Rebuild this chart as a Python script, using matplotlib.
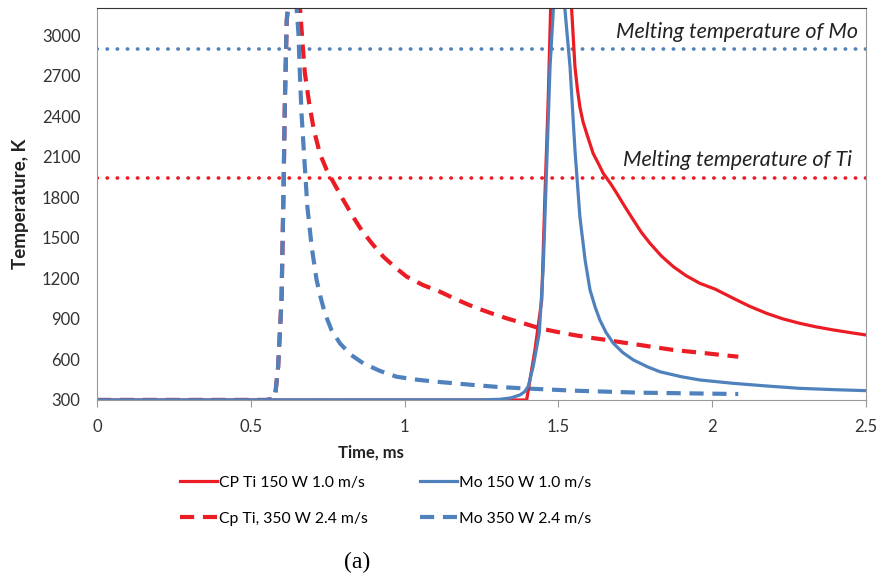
import numpy as np
import matplotlib.pyplot as plt

plt.rcParams['font.family'] = ['Lato', 'DejaVu Sans']

red = '#EC1C24'
blue = '#4F81BD'

# CP Ti 150 W 1.0 m/s
t_ti150 = [0, 1.397, 1.410, 1.424, 1.446, 1.456, 1.467, 1.475, 1.51, 1.543, 1.554, 1.562, 1.570,
           1.580, 1.592, 1.613, 1.630, 1.646, 1.670, 1.690, 1.715, 1.744, 1.770, 1.798, 1.835,
           1.874, 1.915, 1.960, 2.010, 2.069, 2.12, 2.177, 2.23, 2.285, 2.34, 2.394, 2.45, 2.5]
T_ti150 = [300, 300, 480, 670, 1040, 1779, 2519, 3200, 3800, 3200, 2765, 2600, 2469,
           2360, 2272, 2125, 2050, 1977, 1900, 1829, 1735, 1631, 1540, 1459, 1365,
           1286, 1220, 1163, 1120, 1052, 995, 941, 900, 867, 840, 818, 798, 781]

# Mo 150 W 1.0 m/s
t_mo150 = [0, 1.25, 1.310, 1.345, 1.375, 1.390, 1.402, 1.418, 1.438, 1.451, 1.462, 1.473, 1.484,
           1.50, 1.521, 1.538, 1.554, 1.570, 1.587, 1.603, 1.620, 1.635, 1.655, 1.679, 1.71,
           1.744, 1.79, 1.830, 1.90, 1.960, 2.069, 2.18, 2.285, 2.4, 2.5]
T_mo150 = [300, 301, 305, 315, 337, 360, 400, 546, 795, 1286, 2026, 2765, 3200,
           3600, 3200, 2765, 2149, 1656, 1335, 1114, 985, 892, 800, 719, 650,
           596, 545, 509, 472, 448, 423, 403, 386, 376, 369]

# Cp Ti, 350 W 2.4 m/s
t_ti350 = [0, 0.55, 0.570, 0.579, 0.589, 0.600, 0.606, 0.611, 0.617, 0.635, 0.660, 0.668, 0.676,
           0.690, 0.705, 0.725, 0.747, 0.775, 0.801, 0.830, 0.860, 0.895, 0.931, 0.97, 1.007,
           1.06, 1.115, 1.17, 1.223, 1.28, 1.332, 1.39, 1.440, 1.495, 1.549, 1.60, 1.657,
           1.71, 1.765, 1.82, 1.874, 1.93, 1.982, 2.03, 2.085]
T_ti350 = [300, 300, 308, 325, 546, 1040, 1779, 2519, 3110, 3500, 3200, 2950, 2716,
           2494, 2300, 2120, 2001, 1885, 1779, 1665, 1557, 1455, 1360, 1280, 1212,
           1150, 1101, 1042, 990, 943, 904, 865, 830, 804, 781, 762, 744,
           725, 707, 688, 670, 657, 645, 633, 620]

# Mo 350 W 2.4 m/s
t_mo350 = [0, 0.55, 0.570, 0.579, 0.589, 0.600, 0.606, 0.611, 0.617, 0.632, 0.649, 0.655, 0.660,
           0.665, 0.673, 0.684, 0.698, 0.714, 0.727, 0.741, 0.762, 0.790, 0.825, 0.866, 0.92,
           0.974, 1.04, 1.104, 1.223, 1.30, 1.386, 1.549, 1.765, 2.085]
T_mo350 = [300, 300, 308, 325, 546, 1040, 1779, 2519, 3110, 3500, 3200, 3012, 2691,
           2420, 2125, 1730, 1434, 1188, 1060, 941, 820, 719, 635, 571, 515,
           472, 450, 435, 411, 397, 386, 369, 354, 344]

melt_mo = 2896
melt_ti = 1941

fig = plt.figure(figsize=(8.8, 5.79), dpi=100)
ax = fig.add_axes([0.1102, 0.3092, 0.8738, 0.6770])

ax.axhline(melt_mo, color=blue, lw=2.6, ls=(0, (0.1, 2.7)), dash_capstyle='round')
ax.axhline(melt_ti, color=red, lw=2.6, ls=(0, (0.1, 2.7)), dash_capstyle='round')

l3, = ax.plot(t_ti350, T_ti350, color=red, lw=3.0, ls=(0, (3.4, 2.1)))
l4, = ax.plot(t_mo350, T_mo350, color=blue, lw=3.0, ls=(0, (3.4, 2.1)))
l1, = ax.plot(t_ti150, T_ti150, color=red, lw=2.3)
l2, = ax.plot(t_mo150, T_mo150, color=blue, lw=2.3)

ax.text(2.475, 3020, 'Melting temperature of Mo', style='italic', fontsize=15.5,
        ha='right', va='center', color='#222222')
ax.text(2.455, 2075, 'Melting temperature of Ti', style='italic', fontsize=15.5,
        ha='right', va='center', color='#222222')

ax.set_xlim(0, 2.5)
ax.set_ylim(300, 3200)
ax.set_xticks([0, 0.5, 1, 1.5, 2, 2.5])
ax.set_xticklabels(['0', '0.5', '1', '1.5', '2', '2.5'])
ax.set_yticks(np.arange(300, 3001, 300))
ax.tick_params(axis='x', direction='out', length=5, color='#999999', labelsize=12,
               labelcolor='#333333', pad=9)
ax.tick_params(axis='y', length=0, labelsize=12, labelcolor='#333333', pad=12)
for s in ['left', 'bottom', 'right']:
    ax.spines[s].set_color('#999999')
ax.spines['top'].set_color('#333333')

fig.text(0.422, 0.219, 'Time, ms', fontweight='bold', fontsize=12,
         ha='center', va='center', color='#222222')
fig.text(0.023, 0.648, 'Temperature, K', fontweight='bold', fontsize=13.5, rotation=90,
         ha='center', va='center', color='#222222')

leg_kw = dict(ncol=1, loc='upper left', frameon=False, fontsize=11.3, handlelength=2.35,
              handletextpad=0.15, labelspacing=1.4, borderpad=0, borderaxespad=0)
fig.legend([l1, l3], ['CP Ti 150 W 1.0 m/s', 'Cp Ti, 350 W 2.4 m/s'],
           bbox_to_anchor=(0.2045, 0.178), **leg_kw)
fig.legend([l2, l4], ['Mo 150 W 1.0 m/s', 'Mo 350 W 2.4 m/s'],
           bbox_to_anchor=(0.4773, 0.178), **leg_kw)

fig.text(0.406, 0.029, '(a)', family='Liberation Serif', fontsize=17, ha='center', va='center')

plt.savefig('out.png', dpi=100)
